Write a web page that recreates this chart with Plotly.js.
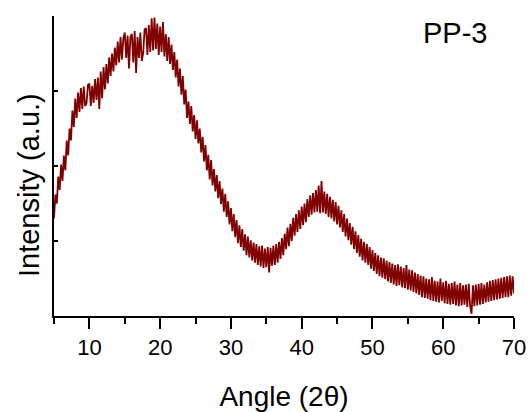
<!DOCTYPE html>
<html>
<head>
<meta charset="utf-8">
<script src="https://cdn.plot.ly/plotly-3.0.1.min.js"></script>
<style>
  html, body { margin: 0; padding: 0; background: #fff; }
  #chart { width: 529px; height: 412px; }
</style>
</head>
<body>
<div id="chart"></div>
<script>
// Scan grid: 2θ from 5° to 70° in 0.2° steps
const angleStart = 5;
const angleStep = 0.2;

// Intensity (a.u.), one value per grid point
const intensity = [
  1.30, 1.62, 1.50, 1.86, 1.68,
  2.02, 1.80, 2.14, 1.94, 2.34,
  2.14, 2.50, 2.34, 2.74, 2.52,
  2.90, 2.64, 2.98, 2.72, 3.04,
  2.76, 3.06, 2.80, 2.84, 3.08,
  3.10, 2.80, 3.07, 2.84, 3.16,
  2.88, 3.18, 2.76, 3.26, 2.90,
  3.32, 3.02, 3.36, 3.10, 3.45,
  3.20, 3.50, 3.26, 3.58, 3.34,
  3.66, 3.38, 3.72, 3.42, 3.70,
  3.78, 3.44, 3.74, 3.30, 3.72,
  3.76, 3.38, 3.80, 3.24, 3.72,
  3.44, 3.78, 3.40, 3.50, 3.82,
  3.84, 3.48, 3.88, 3.52, 3.97,
  3.54, 3.98, 3.56, 3.90, 3.48,
  3.86, 3.52, 3.92, 3.46, 3.76,
  3.40, 3.72, 3.36, 3.62, 3.28,
  3.52, 3.18, 3.42, 3.06, 3.30,
  2.95, 3.20, 2.82, 3.02, 2.64,
  2.86, 2.56, 2.80, 2.46, 2.68,
  2.36, 2.61, 2.30, 2.50, 2.18,
  2.39, 2.06, 2.28, 1.94, 2.15,
  1.82, 2.08, 1.74, 1.96, 1.66,
  1.88, 1.57, 1.80, 1.49, 1.70,
  1.39, 1.63, 1.32, 1.53, 1.22,
  1.44, 1.13, 1.36, 1.05, 1.28,
  0.97, 1.21, 0.92, 1.16, 0.87,
  1.09, 0.81, 1.06, 0.78, 1.01,
  0.74, 0.98, 0.71, 0.96, 0.68,
  0.93, 0.66, 0.94, 0.64, 0.90,
  0.65, 0.92, 0.58, 0.91, 0.67,
  0.94, 0.68, 0.96, 0.71, 0.99,
  0.76, 1.04, 0.81, 1.10, 0.89,
  1.18, 0.93, 1.23, 1.00, 1.31,
  1.07, 1.36, 1.12, 1.41, 1.16,
  1.46, 1.21, 1.50, 1.25, 1.56,
  1.32, 1.61, 1.35, 1.64, 1.38,
  1.68, 1.39, 1.74, 1.37, 1.80,
  1.38, 1.66, 1.36, 1.63, 1.32,
  1.59, 1.30, 1.55, 1.26, 1.52,
  1.22, 1.47, 1.18, 1.41, 1.12,
  1.36, 1.06, 1.30, 1.01, 1.24,
  0.95, 1.19, 0.89, 1.13, 0.84,
  1.08, 0.79, 1.03, 0.74, 0.99,
  0.71, 0.96, 0.68, 0.92, 0.63,
  0.88, 0.60, 0.84, 0.56, 0.81,
  0.53, 0.78, 0.51, 0.77, 0.49,
  0.74, 0.46, 0.72, 0.44, 0.70,
  0.42, 0.68, 0.40, 0.69, 0.41,
  0.66, 0.38, 0.64, 0.37, 0.68,
  0.35, 0.62, 0.34, 0.61, 0.32,
  0.58, 0.30, 0.56, 0.28, 0.54,
  0.25, 0.53, 0.24, 0.50, 0.23,
  0.49, 0.21, 0.52, 0.20, 0.47,
  0.19, 0.46, 0.18, 0.50, 0.20,
  0.45, 0.17, 0.47, 0.16, 0.43,
  0.15, 0.44, 0.16, 0.46, 0.14,
  0.42, 0.13, 0.44, 0.14, 0.41,
  0.15, 0.42, 0.12, 0.43, 0.13,
  0.03, 0.41, 0.13, 0.42, 0.14,
  0.43, 0.15, 0.44, 0.16, 0.42,
  0.18, 0.45, 0.19, 0.47, 0.20,
  0.48, 0.21, 0.49, 0.22, 0.50,
  0.23, 0.51, 0.24, 0.52, 0.25,
  0.53, 0.25, 0.54, 0.27, 0.53,
  0.30
];

const xTickVals = [10, 20, 30, 40, 50, 60, 70];
const xTickText = ['10', '20', '30', '40', '50', '60', '70'];
const sampleLabel = 'PP-3';
const xTitle = 'Angle (2θ)';
const yTitle = 'Intensity (a.u.)';

const angle = intensity.map((_, i) => +(angleStart + i * angleStep).toFixed(2));

const FONT = 'Arial, "Liberation Sans", Helvetica, sans-serif';

const trace = {
  x: angle,
  y: intensity,
  type: 'scatter',
  mode: 'lines',
  line: { color: '#800000', width: 1.8 },
  hoverinfo: 'skip'
};

const layout = {
  width: 529,
  height: 412,
  margin: { l: 54, r: 15, t: 16, b: 96 },
  paper_bgcolor: '#ffffff',
  plot_bgcolor: '#ffffff',
  showlegend: false,
  font: { family: FONT, color: '#000' },
  xaxis: {
    range: [5, 70],
    tickmode: 'array',
    tickvals: xTickVals,
    ticktext: xTickText,
    ticks: 'outside',
    ticklen: 11,
    tickwidth: 2,
    tickcolor: '#000',
    minor: { dtick: 5, tick0: 5, ticks: 'outside', ticklen: 6, tickwidth: 2, tickcolor: '#000', showgrid: false },
    showline: true,
    linecolor: '#000',
    linewidth: 2,
    showgrid: false,
    zeroline: false,
    tickfont: { family: FONT, size: 22, color: '#000' },
    title: { text: xTitle, font: { family: FONT, size: 28, color: '#000' }, standoff: 28 }
  },
  yaxis: {
    range: [0, 4],
    dtick: 1,
    ticks: 'inside',
    ticklen: 4,
    tickwidth: 1.5,
    tickcolor: '#000',
    showticklabels: false,
    showline: true,
    linecolor: '#000',
    linewidth: 2,
    showgrid: false,
    zeroline: false
  },
  annotations: [
    {
      text: sampleLabel,
      xref: 'paper', yref: 'paper',
      x: (455 - 54) / 460, y: (316 - 33) / 300,
      xanchor: 'center', yanchor: 'middle',
      showarrow: false,
      font: { family: FONT, size: 29, color: '#000' }
    },
    {
      text: yTitle,
      xref: 'paper', yref: 'paper',
      x: (29 - 54) / 460, y: (316 - 185) / 300,
      xanchor: 'center', yanchor: 'middle',
      textangle: -90,
      showarrow: false,
      font: { family: FONT, size: 29, color: '#000' }
    }
  ]
};

Plotly.newPlot('chart', [trace], layout, { displayModeBar: false, staticPlot: true });
</script>
</body>
</html>
